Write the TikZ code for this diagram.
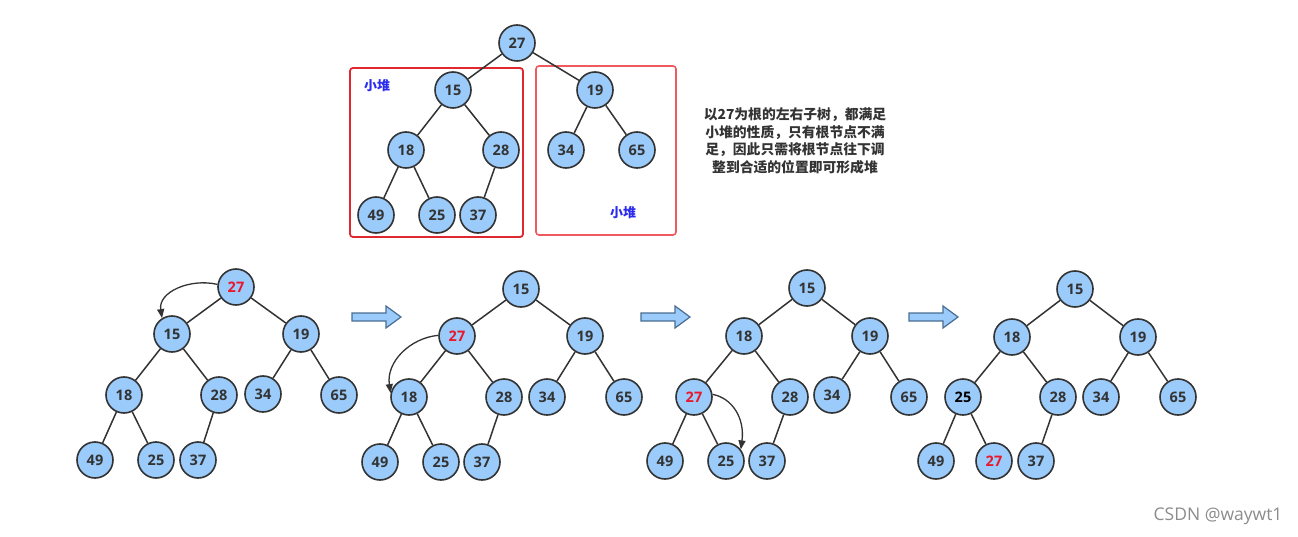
\documentclass[tikz,border=0pt]{standalone}
\usepackage{fontspec}
\setmainfont{Open Sans}
\newfontfamily\cjk{Noto Sans CJK SC}
\usetikzlibrary{arrows.meta}
\definecolor{nodeblue}{HTML}{9ACBFA}
\definecolor{edgegray}{HTML}{333333}
\definecolor{keyred}{HTML}{E8182A}
\definecolor{boxred}{HTML}{E0282E}
\definecolor{boxred2}{HTML}{EE5A5E}
\definecolor{labelblue}{HTML}{2A2AF0}
\definecolor{arrowedge}{HTML}{4A6E94}
\tikzset{
  hn/.style={circle, minimum size=36pt, inner sep=0pt, fill=nodeblue, draw=edgegray,
    line width=1.6pt, text=edgegray, font=\bfseries\fontsize{14.5}{14.5}\selectfont},
  hot/.style={text=keyred},
  tedge/.style={draw=edgegray, line width=1.5pt},
  swaparrow/.style={draw=edgegray, line width=1.3pt, -{Triangle[length=9pt,width=7pt]}},
  blockarrow/.style={fill=nodeblue, draw=arrowedge, line width=1.2pt, line join=miter},
  heaplabel/.style={text=labelblue, font=\cjk\bfseries\fontsize{13}{13}\selectfont},
}
\newcommand{\blockarr}[2]{%
  \draw[blockarrow] (#1,#2-4) -- (#1+34,#2-4) -- (#1+34,#2-11) -- (#1+49,#2) -- (#1+34,#2+11) -- (#1+34,#2+4) -- (#1,#2+4) -- cycle;}
\begin{document}
\begin{tikzpicture}[x=1pt,y=-1pt]
\useasboundingbox[fill=white] (0,0) rectangle (1298,537);

% ---------- top tree ----------
\draw[boxred, line width=1.8pt, rounded corners=3pt] (350,68) rectangle (523,237);
\draw[boxred2, line width=1.6pt, rounded corners=3pt] (536,66) rectangle (676,235);
\node[heaplabel] (lblA) at (377,86) {小堆};
\node[heaplabel] (lblB) at (623,213) {小堆};

\node[hn] (a27) at (517,43) {27};
\node[hn] (a15) at (453,90) {15};
\node[hn] (a19) at (595,90) {19};
\node[hn] (a18) at (406,150) {18};
\node[hn] (a28) at (501,150) {28};
\node[hn] (a34) at (566,150) {34};
\node[hn] (a65) at (637,150) {65};
\node[hn] (a49) at (376,215) {49};
\node[hn] (a25) at (437,215) {25};
\node[hn] (a37) at (478,215) {37};
\draw[tedge] (a27) -- (a15); \draw[tedge] (a27) -- (a19);
\draw[tedge] (a15) -- (a18); \draw[tedge] (a15) -- (a28);
\draw[tedge] (a19) -- (a34); \draw[tedge] (a19) -- (a65);
\draw[tedge] (a18) -- (a49); \draw[tedge] (a18) -- (a25);
\draw[tedge] (a28) -- (a37);

\node[align=center, text=edgegray, font=\cjk\bfseries\fontsize{13.8}{17.5}\selectfont] (note) at (795,141)
 {以27为根的左右子树，都满足\\小堆的性质，只有根节点不满\\足，因此只需将根节点往下调\\整到合适的位置即可形成堆};

% ---------- tree 1 ----------
\node[hn,hot] (b27) at (236,287) {27};
\node[hn] (b15) at (172,334) {15};
\node[hn] (b19) at (301,334) {19};
\node[hn] (b18) at (124,395) {18};
\node[hn] (b28) at (219,395) {28};
\node[hn] (b34) at (263,394) {34};
\node[hn] (b65) at (339,395) {65};
\node[hn] (b49) at (95,460) {49};
\node[hn] (b25) at (156,460) {25};
\node[hn] (b37) at (198,460) {37};
\draw[tedge] (b27) -- (b15); \draw[tedge] (b27) -- (b19);
\draw[tedge] (b15) -- (b18); \draw[tedge] (b15) -- (b28);
\draw[tedge] (b19) -- (b34); \draw[tedge] (b19) -- (b65);
\draw[tedge] (b18) -- (b49); \draw[tedge] (b18) -- (b25);
\draw[tedge] (b28) -- (b37);
\draw[swaparrow] (b27.172) .. controls (190,278) and (158,292) .. (b15.122);

\blockarr{352}{317}

% ---------- tree 2 ----------
\node[hn] (c15) at (521,289) {15};
\node[hn,hot] (c27) at (457,336) {27};
\node[hn] (c19) at (585,336) {19};
\node[hn] (c18) at (409,397) {18};
\node[hn] (c28) at (504,397) {28};
\node[hn] (c34) at (547,397) {34};
\node[hn] (c65) at (624,397) {65};
\node[hn] (c49) at (380,462) {49};
\node[hn] (c25) at (441,462) {25};
\node[hn] (c37) at (482,462) {37};
\draw[tedge] (c15) -- (c27); \draw[tedge] (c15) -- (c19);
\draw[tedge] (c27) -- (c18); \draw[tedge] (c27) -- (c28);
\draw[tedge] (c19) -- (c34); \draw[tedge] (c19) -- (c65);
\draw[tedge] (c18) -- (c49); \draw[tedge] (c18) -- (c25);
\draw[tedge] (c28) -- (c37);
\draw[swaparrow] (c27.178) .. controls (410,338) and (386,362) .. (c18.168);

\blockarr{641}{317}

% ---------- tree 3 ----------
\node[hn] (d15) at (807,288) {15};
\node[hn] (d18) at (744,336) {18};
\node[hn] (d19) at (870,336) {19};
\node[hn,hot] (d27) at (694,397) {27};
\node[hn] (d28) at (790,397) {28};
\node[hn] (d34) at (832,395) {34};
\node[hn] (d65) at (909,397) {65};
\node[hn] (d49) at (665,461) {49};
\node[hn] (d25) at (726,461) {25};
\node[hn] (d37) at (767,461) {37};
\draw[tedge] (d15) -- (d18); \draw[tedge] (d15) -- (d19);
\draw[tedge] (d18) -- (d27); \draw[tedge] (d18) -- (d28);
\draw[tedge] (d19) -- (d34); \draw[tedge] (d19) -- (d65);
\draw[tedge] (d27) -- (d49); \draw[tedge] (d27) -- (d25);
\draw[tedge] (d28) -- (d37);
\draw[swaparrow] (d27.8) .. controls (732,398) and (745,418) .. (d25.38);

\blockarr{909}{317}

% ---------- tree 4 ----------
\node[hn] (e15) at (1075,289) {15};
\node[hn] (e18) at (1012,337) {18};
\node[hn] (e19) at (1138,337) {19};
\node[hn, text=black] (e25) at (963,397) {25};
\node[hn] (e28) at (1058,397) {28};
\node[hn] (e34) at (1101,397) {34};
\node[hn] (e65) at (1178,397) {65};
\node[hn] (e49) at (936,461) {49};
\node[hn,hot] (e27) at (994,461) {27};
\node[hn] (e37) at (1036,461) {37};
\draw[tedge] (e15) -- (e18); \draw[tedge] (e15) -- (e19);
\draw[tedge] (e18) -- (e25); \draw[tedge] (e18) -- (e28);
\draw[tedge] (e19) -- (e34); \draw[tedge] (e19) -- (e65);
\draw[tedge] (e25) -- (e49); \draw[tedge] (e25) -- (e27);
\draw[tedge] (e28) -- (e37);

\node[text=black!45, font=\fontsize{17.5}{17.5}\selectfont, anchor=east] (wm) at (1286,516) {CSDN @waywt1};
\end{tikzpicture}
\end{document}
